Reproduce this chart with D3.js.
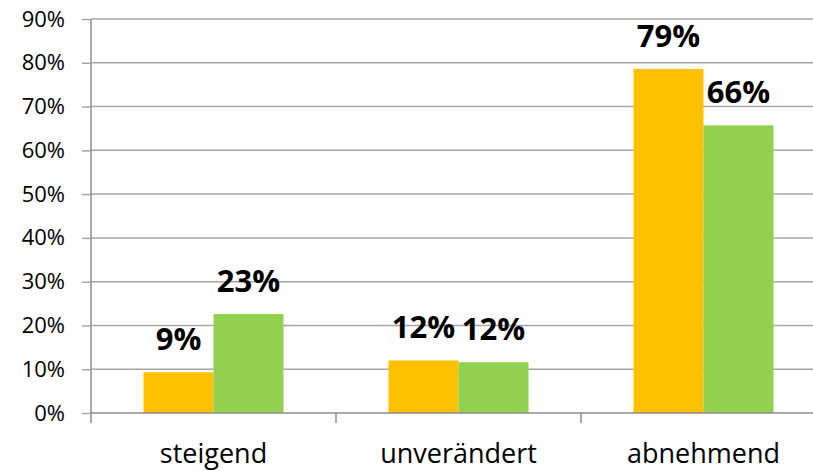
<!DOCTYPE html>
<html><head><meta charset="utf-8">
<script src="https://cdn.jsdelivr.net/npm/d3@7"></script>
<style>body{margin:0;background:#fff;} svg{display:block;}</style>
</head><body>
<svg id="c" width="813" height="471"></svg>
<script>
const categories = ["steigend", "unverändert", "abnehmend"];
const seriesNames = ["A", "B"];
const seriesA = [9.3, 12.0, 78.6];
const seriesB = [22.6, 11.6, 65.7];
const labelsA = ["9%", "12%", "79%"];
const labelsB = ["23%", "12%", "66%"];
const yTicks = [0, 10, 20, 30, 40, 50, 60, 70, 80, 90];
const colors = ["#FFC000", "#92D050"];

const svg = d3.select("#c");
const mLeft = 91, mTop = 19, mBottom = 413, mRight = 826;
const y = d3.scaleLinear().domain([0, 90]).range([mBottom, mTop]);
const x = d3.scaleBand().domain(categories).range([mLeft, mRight]).padding(0);
const xs = d3.scaleBand().domain(seriesNames).range([0, x.bandwidth()]).paddingInner(0).paddingOuter(0.75);

// gridlines
svg.append("g").selectAll("line").data(yTicks.filter(d => d > 0)).join("line")
  .attr("x1", mLeft).attr("x2", 813)
  .attr("y1", d => y(d)).attr("y2", d => y(d))
  .attr("stroke", "#a6a6a6").attr("stroke-width", 1.5);

// y axis
const yAxis = svg.append("g").attr("transform", `translate(${mLeft},0)`)
  .call(d3.axisLeft(y).tickValues(yTicks).tickFormat(d => d + "%").tickSize(9).tickPadding(17));
yAxis.select(".domain").attr("stroke", "#8c8c8c").attr("stroke-width", 1.5)
  .attr("d", `M0,${mTop}V${mBottom + 10}`);
yAxis.selectAll(".tick line").attr("stroke", "#a6a6a6").attr("stroke-width", 1.5);
yAxis.selectAll(".tick text").attr("font-family", "'Open Sans', sans-serif").attr("font-size", 22).attr("fill", "#000");

// bars
const data = categories.map((c, i) => ({c, vals: [seriesA[i], seriesB[i]], labs: [labelsA[i], labelsB[i]]}));
const groups = svg.append("g").selectAll("g").data(data).join("g")
  .attr("transform", d => `translate(${x(d.c)},0)`);
groups.selectAll("rect").data(d => d.vals.map((v, j) => ({s: seriesNames[j], v, j}))).join("rect")
  .attr("x", d => xs(d.s)).attr("width", xs.bandwidth())
  .attr("y", d => y(d.v)).attr("height", d => y(0) - y(d.v))
  .attr("fill", d => colors[d.j]);
groups.selectAll("text").data(d => d.vals.map((v, j) => ({s: seriesNames[j], v, lab: d.labs[j]}))).join("text")
  .attr("x", d => xs(d.s) + xs.bandwidth() / 2).attr("y", d => y(d.v) - 22)
  .attr("text-anchor", "middle")
  .attr("font-family", "'Open Sans', sans-serif").attr("font-weight", "bold").attr("font-size", 31)
  .attr("fill", "#000").text(d => d.lab);

// x axis
const xAxis = svg.append("g").attr("transform", `translate(0,${mBottom})`)
  .call(d3.axisBottom(x).tickSize(0).tickPadding(0));
xAxis.select(".domain").remove();
svg.append("line").attr("x1", mLeft).attr("x2", 813).attr("y1", mBottom).attr("y2", mBottom)
  .attr("stroke", "#8c8c8c").attr("stroke-width", 1.5);
svg.append("g").selectAll("line").data(categories.slice(1)).join("line")
  .attr("x1", d => x(d)).attr("x2", d => x(d)).attr("y1", mBottom).attr("y2", mBottom + 10)
  .attr("stroke", "#8c8c8c").attr("stroke-width", 1.5);
xAxis.selectAll(".tick text").attr("font-family", "'Open Sans', sans-serif").attr("font-size", 27)
  .attr("fill", "#000").attr("dy", 0).attr("y", 50);
</script>
</body></html>
